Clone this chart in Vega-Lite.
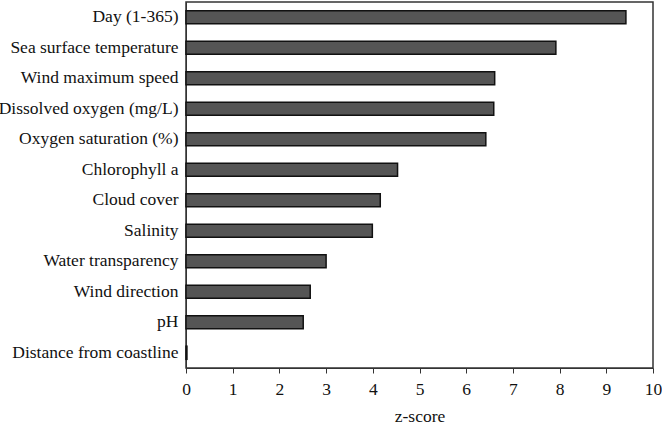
{
  "$schema": "https://vega.github.io/schema/vega-lite/v6.json",
  "width": 467,
  "height": 366,
  "autosize": "none",
  "padding": {"left": 186, "top": 2, "right": 9, "bottom": 58},
  "background": "white",
  "config": {
    "font": "Liberation Serif",
    "view": {"stroke": "#333", "strokeWidth": 1.5}
  },
  "data": {
    "values": [
      {"variable": "Day (1-365)", "z": 9.42},
      {"variable": "Sea surface temperature", "z": 7.92},
      {"variable": "Wind maximum speed", "z": 6.61},
      {"variable": "Dissolved oxygen (mg/L)", "z": 6.59},
      {"variable": "Oxygen saturation (%)", "z": 6.42},
      {"variable": "Chlorophyll a", "z": 4.53},
      {"variable": "Cloud cover", "z": 4.16},
      {"variable": "Salinity", "z": 3.99},
      {"variable": "Water transparency", "z": 3.0},
      {"variable": "Wind direction", "z": 2.66},
      {"variable": "pH", "z": 2.51},
      {"variable": "Distance from coastline", "z": 0.02}
    ]
  },
  "mark": {"type": "bar", "fill": "#555555", "stroke": "#111111", "strokeWidth": 1.5},
  "encoding": {
    "y": {
      "field": "variable",
      "type": "nominal",
      "sort": null,
      "scale": {"paddingInner": 0.57, "paddingOuter": 0.285},
      "axis": {
        "title": null,
        "ticks": false,
        "domain": true,
        "domainColor": "#333",
        "labelFont": "Liberation Serif",
        "labelFontSize": 17.5,
        "labelColor": "#111",
        "labelPadding": 8,
        "labelLimit": 300
      }
    },
    "x": {
      "field": "z",
      "type": "quantitative",
      "scale": {"domain": [0, 10], "nice": false},
      "axis": {
        "title": "z-score",
        "titleFont": "Liberation Serif",
        "titleFontSize": 17.5,
        "titleFontWeight": "normal",
        "titleColor": "#111",
        "titlePadding": 10,
        "values": [0, 1, 2, 3, 4, 5, 6, 7, 8, 9, 10],
        "grid": false,
        "tickSize": 5,
        "tickColor": "#333",
        "domainColor": "#333",
        "labelFont": "Liberation Serif",
        "labelFontSize": 17.5,
        "labelColor": "#111",
        "labelPadding": 7,
        "labelFlush": false
      }
    }
  }
}
